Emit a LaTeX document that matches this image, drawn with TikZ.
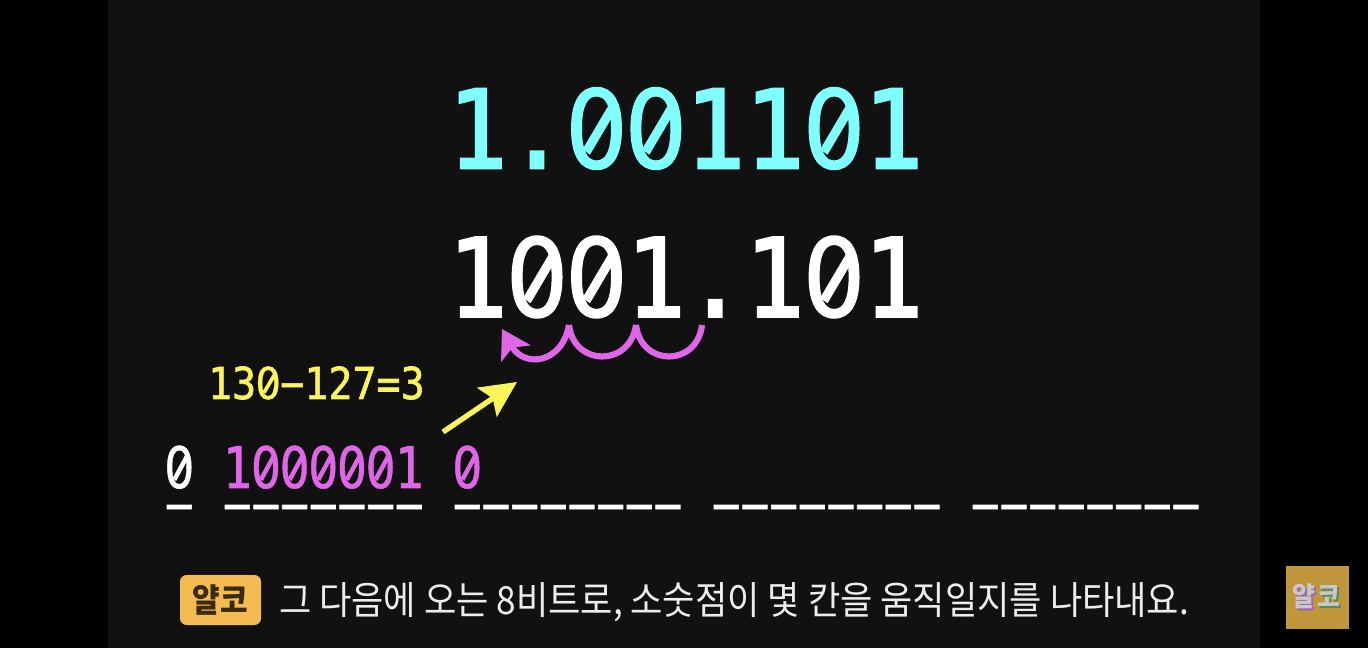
\documentclass[tikz,border=0pt]{standalone}
\usepackage{fontspec}
\newfontfamily\mnb{DejaVu Sans Mono}[FakeBold=2.5]
\newfontfamily\mnm{DejaVu Sans Mono}[FakeBold=1.5]
\newfontfamily\zfb{DejaVu Sans}[FakeBold=1.2]
\newfontfamily\zfm{DejaVu Sans}[FakeBold=0.8]
\newfontfamily\kr{Noto Sans CJK KR}
\usetikzlibrary{arrows.meta}
\definecolor{panel}{HTML}{111111}
\definecolor{cyanT}{HTML}{80FFFF}
\definecolor{magT}{HTML}{E066E8}
\definecolor{yelT}{HTML}{FAF55A}
\definecolor{badge}{HTML}{F5BB53}
\definecolor{logo}{HTML}{C0963A}
\definecolor{capT}{HTML}{EDEDED}
\definecolor{badgeT}{HTML}{3A2A10}
\definecolor{logoT}{HTML}{C8C8C8}
\definecolor{logoP}{HTML}{9A68B8}
\definecolor{logoG}{HTML}{4E8E60}
\newcommand{\vst}[2][1.1]{\scalebox{1}[#1]{#2}}
\newcommand{\zf}{}
\newcommand{\zz}{\rlap{\hspace{.301em}\raisebox{.365em}{\rotatebox[origin=c]{57}{\makebox[0pt]{\rule[-.045em]{.52em}{.09em}}}}}\makebox[.602em][c]{\zf 0}}
\tikzset{
  x=0.75pt,y=-0.75pt,
  txt/.style={inner sep=0,outer sep=0,anchor=base west},
  bigtxt/.style={txt,font=\fontsize{74pt}{80pt}\mnb\let\zf\zfb},
  midtxt/.style={txt,font=\fontsize{35.7pt}{40pt}\mnm\let\zf\zfm},
  yeltxt/.style={txt,font=\fontsize{30pt}{34pt}\mnm\let\zf\zfm,text=yelT},
  dshtxt/.style={txt,font=\fontsize{35.7pt}{40pt}\mnm,text=white},
  captxt/.style={txt,font=\fontsize{26.35pt}{30pt}\kr,text=capT},
  logotxt/.style={font=\fontsize{18.5pt}{24pt}\kr\bfseries,inner sep=0},
}
\begin{document}
\begin{tikzpicture}
\useasboundingbox (0,0) rectangle (1368,648);
\fill[black] (0,0) rectangle (1368,648);
\fill[panel] (108,0) rectangle (1260,648);
\node[bigtxt,text=cyanT] (a) at (448,168) {\vst{1.\zz\zz11\zz1}};
\node[bigtxt,text=white] (b) at (448,316.5) {\vst{1\zz\zz1.1\zz1}};
\node[yeltxt] (c) at (208,399) {\vst{13\zz−127=3}};
\node[midtxt,text=white] (d0) at (165,488) {\vst[1.2]{\zz}};
\node[midtxt,text=magT] (d1) at (223,488) {\vst[1.2]{1\zz\zz\zz\zz\zz1}};
\node[midtxt,text=magT] (d2) at (453,488) {\vst[1.2]{\zz}};
\node[dshtxt] (e0) at (165,522) {−};
\node[dshtxt] (e1) at (223,522) {−−−−−−−};
\node[dshtxt] (e2) at (453,522) {−−−−−−−−};
\node[dshtxt] (e3) at (712,522) {−−−−−−−−};
\node[dshtxt] (e4) at (971,522) {−−−−−−−−};
\coordinate (p0) at (702,325);
\coordinate (p1) at (636,325);
\coordinate (p2) at (569,325);
\coordinate (p3) at (502,329);
\draw[magT,line width=4.6pt] (p0) .. controls (697,367) and (641,367) .. (p1);
\draw[magT,line width=4.6pt] (p1) .. controls (630,367) and (574,367) .. (p2);
\draw[magT,line width=4.6pt,-{Stealth[length=21pt,width=25pt,inset=5pt]}] (p2) .. controls (562,364) and (524,368) .. (p3);
\coordinate (q0) at (443,432);
\coordinate (q1) at (517,382);
\draw[yelT,line width=4pt,-{Stealth[length=27pt,width=26pt,inset=5pt]}] (q0) -- (q1);
\node[fill=badge,rounded corners=5pt,minimum width=60.75pt,minimum height=37.5pt,inner sep=0,font=\fontsize{22.5pt}{28pt}\kr\bfseries,text=badgeT] (bd) at (220.5,600) {\vst{얄코}};
\node[captxt] (t) at (279,614.5) {\vst{그 다음에 오는 8비트로, 소숫점이 몇 칸을 움직일지를 나타내요.}};
\node[fill=logo,minimum size=47.25pt,inner sep=0] (lg) at (1317.5,597.5) {};
\node[logotxt,text=logoP] (l1s) at (1305.5,598.5) {\vst{얄}};
\node[logotxt,text=logoG] (l2s) at (1330.5,598.5) {\vst{코}};
\node[logotxt,text=logoT] (l1) at (1303.5,596.5) {\vst{얄}};
\node[logotxt,text=logoT] (l2) at (1328.5,596.5) {\vst{코}};
\end{tikzpicture}
\end{document}
